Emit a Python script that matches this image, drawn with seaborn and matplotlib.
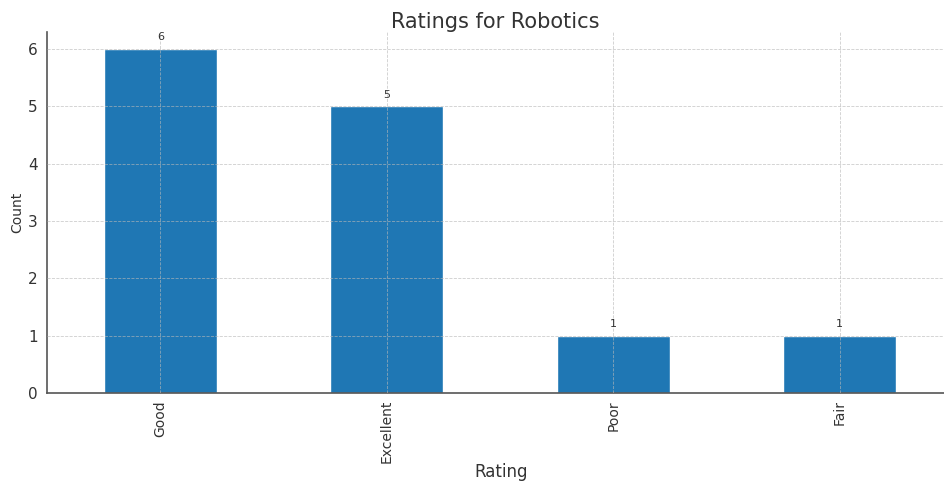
import matplotlib
matplotlib.use("Agg")
import matplotlib.pyplot as plt
import seaborn as sns
import pandas as pd

ratings = ["Good", "Excellent", "Poor", "Fair"]
counts = [6, 5, 1, 1]

df = pd.DataFrame({"Rating": ratings, "Count": counts})

sns.set_style("white")
plt.rcParams['font.family'] = ['DejaVu Sans']

fig = plt.figure(figsize=(9.44, 4.82), dpi=100)
ax = fig.add_axes([47 / 944, 89 / 482, 897 / 944, 361 / 482])

sns.barplot(data=df, x="Rating", y="Count", color="#1f77b4", width=0.5,
            saturation=1, ax=ax)

# Labels on top of the bars
for i, v in enumerate(counts):
    ax.annotate(str(v), (i, v), xytext=(0, 5), textcoords="offset points",
                ha="center", va="bottom", fontsize=8, color="#333333")

ax.set_xlim(-0.5, 3.46)
ax.set_ylim(0, 6.3)
ax.set_axisbelow(False)
ax.grid(True, linestyle="--", linewidth=0.6, color="#b8b8b8", alpha=0.7)

ax.set_title("Ratings for Robotics", fontsize=15, color="#333333", pad=3)
ax.set_xlabel("Rating", fontsize=12, color="#333333")
ax.set_ylabel("Count", fontsize=10, color="#333333")
ax.xaxis.set_label_coords(0.506, -0.195)
ax.yaxis.set_label_coords(-0.025, 0.5)
ax.tick_params(axis="both", length=3, color="#555555", labelcolor="#333333")
ax.tick_params(axis="x", pad=2)
ax.tick_params(axis="y", labelsize=11)
plt.setp(ax.get_xticklabels(), rotation=90, fontsize=10)

for side in ["top", "right"]:
    ax.spines[side].set_visible(False)
for side in ["left", "bottom"]:
    ax.spines[side].set_color("#555555")
    ax.spines[side].set_linewidth(1.2)

fig.savefig("out.png", dpi=100)
